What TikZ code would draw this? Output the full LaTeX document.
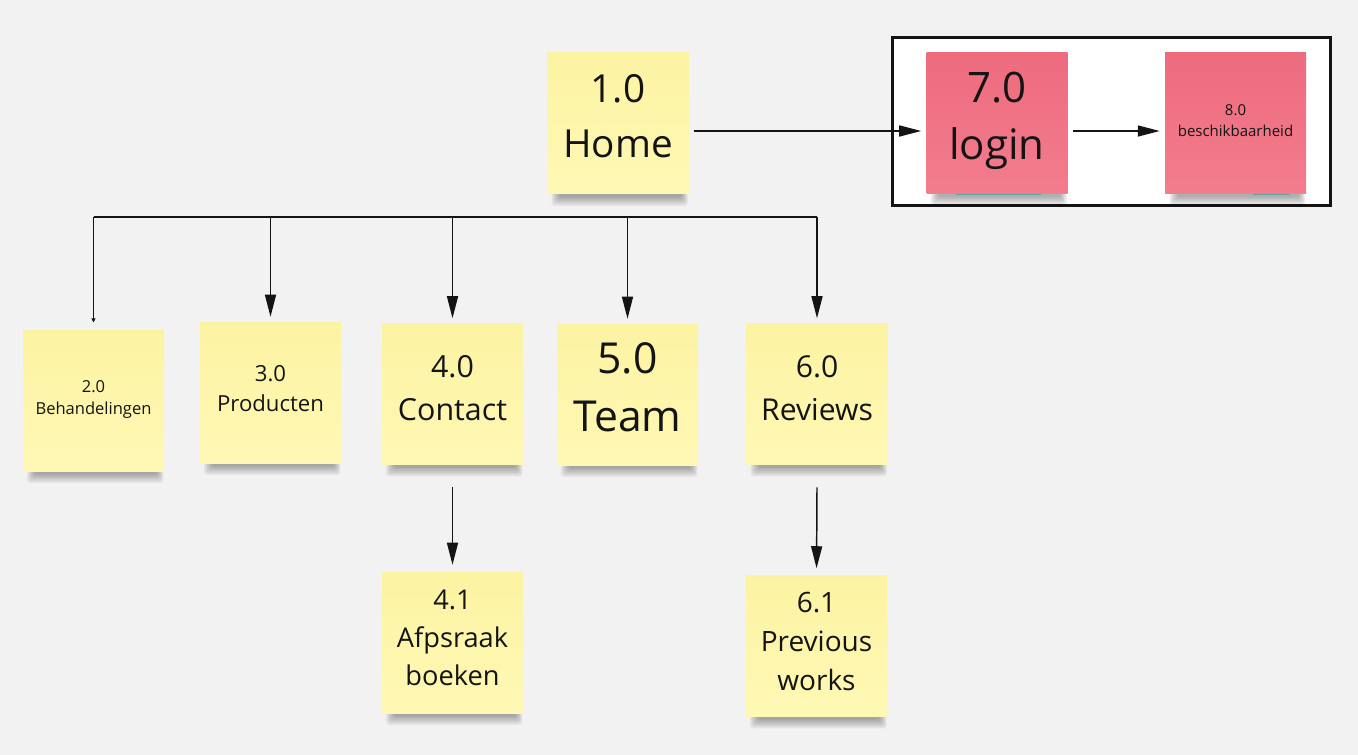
\documentclass[tikz,border=0pt]{standalone}
\usepackage{fontspec}
\setmainfont{Open Sans}
\usetikzlibrary{arrows.meta,calc,backgrounds}
\definecolor{bgc}{HTML}{F2F2F2}
\definecolor{ytop}{HTML}{FCF3A2}
\definecolor{ybot}{HTML}{FFF8B5}
\definecolor{ptop}{HTML}{EE6B7E}
\definecolor{pbot}{HTML}{F27D8D}
\definecolor{ink}{HTML}{141414}
\definecolor{tealedge}{HTML}{2F9A98}
\newcommand\fs[2]{\fontsize{#1}{#2}\selectfont}
\newcommand\NT{\rule{0pt}{.76em}}
\newcommand\NB{\rule[-.4em]{0pt}{.4em}}
\newcommand\nshadow[1]{%
  \foreach \k in {0,...,5}{%
    \fill[black,opacity=0.06,rounded corners=2pt]
      ($(#1.south west)+(12-1.5*\k,-2)$) rectangle ($(#1.south east)+(-7+1.2*\k,3+1.7*\k)$);}}
\begin{document}
\begin{tikzpicture}[x=0.75pt,y=-0.75pt,
  note/.style={rectangle, minimum width=105.75pt, minimum height=105.75pt,
    inner sep=0pt, align=center, text=ink},
  yel/.style={note, top color=ytop, bottom color=ybot},
  pink/.style={note, top color=ptop, bottom color=pbot},
  conn/.style={draw=ink, line width=1.1pt,
    -{Triangle[length=16.5pt,width=8.25pt]}, shorten >=3.75pt},
  tiny/.style={draw=ink, line width=1.1pt,
    -{Triangle[length=3pt,width=3pt]}, shorten >=5.5pt},
  busl/.style={draw=ink, line width=1.5pt},
  framebox/.style={draw=ink, line width=2.25pt, fill=white, inner sep=0pt,
    minimum width=328.5pt, minimum height=126pt}]
\useasboundingbox (0,0) rectangle (1358,755);

% notes
\node[yel, font=\fs{29pt}{41.25pt}] (n1) at (618,123.5) {\NT 1.0\\Home\NB};
\node[pink, font=\fs{31.5pt}{42.75pt}] (n7) at (997,123.5) {\NT 7.0\\login\NB};
\node[pink, font=\fs{11.25pt}{15.75pt}] (n8) at (1235.5,123.5) {\NT 8.0\\beschikbaarheid\NB};
\node[yel, font=\fs{12.4pt}{16pt}] (n2) at (93.5,400.5) {\NT 2.0\\Behandelingen\NB};
\node[yel, font=\fs{16.6pt}{22.5pt}] (n3) at (270.5,392.5) {\NT 3.0\\Producten\NB};
\node[yel, font=\fs{22.8pt}{32.25pt}] (n4) at (452.5,394) {\NT 4.0\\Contact\NB};
\node[yel, font=\fs{32pt}{43.5pt}] (n5) at (627.5,394.5) {\NT 5.0\\Team\NB};
\node[yel, font=\fs{22.6pt}{32.25pt}] (n6) at (817,394) {\NT 6.0\\Reviews\NB};
\node[yel, font=\fs{20.4pt}{28.3pt}] (n41) at (452.5,642.5) {\NT 4.1\\Afpsraak\\boeken\NB};
\node[yel, font=\fs{21pt}{29.25pt}] (n61) at (816.5,646) {\NT 6.1\\Previous\\works\NB};

% background layer: canvas, frame, shadows
\begin{pgfonlayer}{background}
  \fill[bgc] (0,0) rectangle (1358,755);
  \node[framebox] (frame) at (1111,122) {};
  \foreach \n in {n1,n7,n8,n2,n3,n4,n5,n6,n41,n61}{\nshadow{\n}}
  \fill[tealedge,opacity=0.6] ($(n7.south west)+(30,-0.5)$) rectangle ($(n7.south east)+(-27,1)$);
  \fill[tealedge,opacity=0.6] ($(n8.south west)+(88,-0.5)$) rectangle ($(n8.south east)+(-16,1)$);
\end{pgfonlayer}

% connectors
\draw[conn] ($(n1.east)+(5,7.5)$) -- ($(n7.west)+(0,7.5)$);
\draw[conn] ($(n7.east)+(5,7.5)$) -- ($(n8.west)+(0,7.5)$);

\coordinate (bus) at (618,216.7);
\draw[busl] (bus -| n2.north) -- (bus -| n6.north);
\draw[tiny] (bus -| n2.north) -- (n2.north);
\draw[conn] (bus -| n3.north) -- (n3.north);
\draw[conn] (bus -| n4.north) -- (n4.north);
\draw[conn] (bus -| n5.north) -- (n5.north);
\draw[conn] (bus -| n6.north) -- (n6.north);

\draw[conn,shorten >=5.25pt] ($(n4.south)+(0,22.5)$) -- (n41.north);
\draw[conn,shorten >=5.25pt] ($(n6.south)+(0,22.5)$) -- (n61.north);
\end{tikzpicture}
\end{document}
